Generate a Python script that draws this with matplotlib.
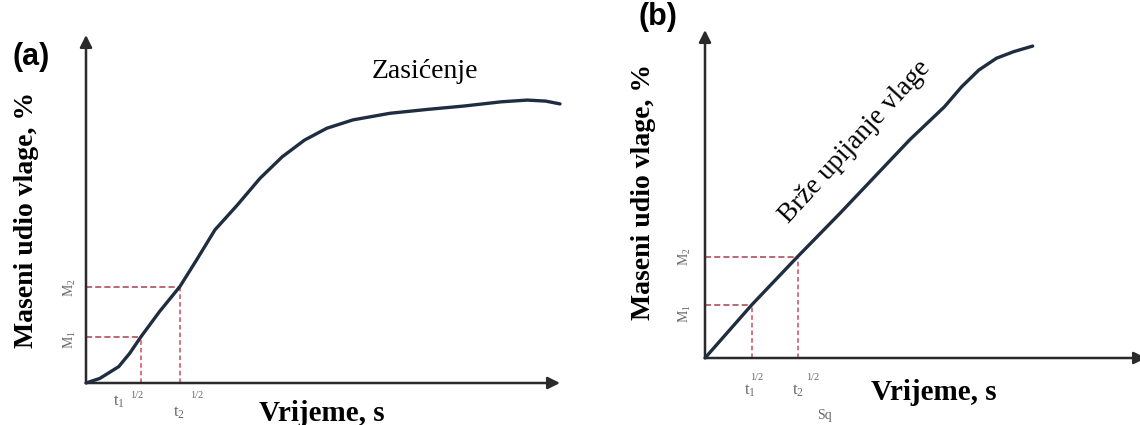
import numpy as np
import matplotlib.pyplot as plt

plt.rcParams['font.family'] = ['Liberation Serif', 'DejaVu Serif']
plt.rcParams['mathtext.fontset'] = 'custom'
plt.rcParams['mathtext.rm'] = 'Liberation Serif'
plt.rcParams['mathtext.it'] = 'Liberation Serif:italic'

# panel (a): moisture uptake curve (time, moisture), arbitrary units 0..100
time_a = [0.0, 2.9, 6.9, 9.2, 11.6, 15.5, 19.8, 23.3, 27.2, 31.9, 36.7, 41.4,
          46.1, 50.8, 56.3, 64.1, 71.9, 79.8, 87.6, 93.1, 97.0, 100.0]
moist_a = [0.0, 1.3, 4.7, 8.5, 13.3, 20.5, 27.7, 35.3, 44.0, 51.1, 58.8, 65.0,
           69.8, 73.2, 75.6, 77.5, 78.6, 79.6, 80.8, 81.3, 81.0, 80.2]
t_marks_a = [11.6, 19.8]
m_marks_a = [13.3, 27.7]

# panel (b): faster uptake
time_b = [0.0, 10.6, 21.0, 30.6, 46.4, 54.3, 58.2, 62.1, 66.1, 70.0, 74.3]
moist_b = [0.0, 16.2, 30.9, 44.1, 66.5, 76.6, 82.7, 87.8, 91.4, 93.4, 95.1]
t_marks_b = [10.6, 21.0]
m_marks_b = [16.2, 30.9]

W, H = 1140, 425
curve_col = '#1f2d40'
dash_col = '#cc4a62'
axis_col = '#2a2a2a'
tick_col = '#6a6a6a'

fig = plt.figure(figsize=(W / 100, H / 100), dpi=100)


def px(x, y):
    return x / W, 1 - y / H


def make_axes(left, right, bottom, top):
    ax = fig.add_axes([left / W, 1 - bottom / H, (right - left) / W, (bottom - top) / H])
    ax.set_xlim(0, 100)
    ax.set_ylim(0, 100)
    ax.axis('off')
    arrow = dict(arrowstyle='-|>', lw=1.8, color=axis_col, mutation_scale=18,
                 shrinkA=0, shrinkB=0)
    ax.annotate('', xy=(1, 0), xytext=(0, 0), xycoords='axes fraction',
                arrowprops=arrow, annotation_clip=False)
    ax.annotate('', xy=(0, 1), xytext=(0, 0), xycoords='axes fraction',
                arrowprops=arrow, annotation_clip=False)
    return ax


def draw_panel(ax, t, m, tm, mm):
    for x, y in zip(tm, mm):
        ax.plot([0, x], [y, y], color='#a8404f', lw=1.1, ls=(0, (4, 2)), clip_on=False)
        ax.plot([x, x], [0, y], color=dash_col, lw=1.1, ls=(0, (3, 2)), clip_on=False)
    ax.plot(t, m, color=curve_col, lw=2.4, solid_capstyle='round',
            solid_joinstyle='round', clip_on=False, zorder=5)


ax_a = make_axes(86, 560, 383, 35)
draw_panel(ax_a, time_a, moist_a, t_marks_a, m_marks_a)

ax_b = make_axes(705, 1146, 358, 30)
draw_panel(ax_b, time_b, moist_b, t_marks_b, m_marks_b)

# panel letters
fig.text(*px(13, 57), '(a)', family='Liberation Sans', weight='bold', fontsize=22,
         ha='left', va='center')
fig.text(*px(638, 17), '(b)', family='Liberation Sans', weight='bold', fontsize=22,
         ha='left', va='center')

# axis titles
ylab = 'Maseni udio vlage, %'
xlab = 'Vrijeme, s'
fig.text(*px(27, 220), ylab, weight='bold', fontsize=20, rotation=90, ha='center', va='center')
fig.text(*px(643, 192), ylab, weight='bold', fontsize=20, rotation=90, ha='center', va='center')
fig.text(*px(322, 421), xlab, weight='bold', fontsize=21, ha='center', va='baseline')
fig.text(*px(934, 400), xlab, weight='bold', fontsize=21, ha='center', va='baseline')

# annotations inside the plots
fig.text(*px(372, 78), 'Zasićenje', fontsize=20, ha='left', va='baseline')
fig.text(*px(855, 142), 'Brže upijanje vlage', fontsize=19.5, rotation=47.5,
         rotation_mode='anchor', ha='center', va='center')

# M / t tick labels
for (x, y, s) in [(70, 340, r'$\mathrm{M}_1$'), (70, 288, r'$\mathrm{M}_2$'),
                  (685, 314, r'$\mathrm{M}_1$'), (685, 257, r'$\mathrm{M}_2$')]:
    fig.text(*px(x, y), s, fontsize=10, color=tick_col, rotation=90, ha='center', va='center')

for (x, y, s, fs) in [(119, 402, r'$\mathrm{t}_1$', 12), (137, 396, '1/2', 7.5),
                      (179, 413, r'$\mathrm{t}_2$', 12), (197, 396, '1/2', 7.5),
                      (750, 391, r'$\mathrm{t}_1$', 12), (757, 377, '1/2', 7.5),
                      (798, 391, r'$\mathrm{t}_2$', 12), (813, 377, '1/2', 7.5),
                      (825, 415, 'Sq', 10)]:
    fig.text(*px(x, y), s, fontsize=fs, color=tick_col, ha='center', va='center')

fig.savefig('out.png', dpi=100)
